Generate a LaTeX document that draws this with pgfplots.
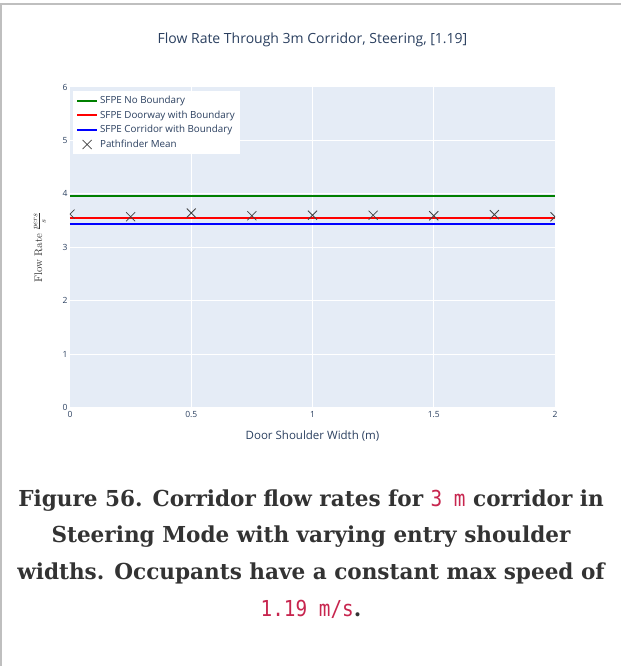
\documentclass[border=0pt]{standalone}
\usepackage[no-math]{fontspec}
\usepackage{pgfplots}
\pgfplotsset{compat=1.18}
\setmainfont{Open Sans}
\newfontfamily\capfont{DejaVu Serif}[FakeStretch=0.98]
\newfontfamily\codefont{DejaVu Sans Mono}[FakeStretch=0.88]
\definecolor{pfont}{HTML}{2A3F5F}
\definecolor{pbg}{HTML}{E5ECF6}
\definecolor{capcol}{HTML}{333333}
\definecolor{codecol}{HTML}{C7254E}
\definecolor{pgreen}{HTML}{008000}
\definecolor{mkcol}{HTML}{444444}
\pgfplotsset{
  linelegend/.style={legend image code/.code={\draw[##1] (3pt,0pt) -- (23pt,0pt);}},
  marklegend/.style={legend image code/.code={\draw[##1] plot coordinates {(13pt,0pt)};}},
}
\begin{document}
\begin{tikzpicture}
\path[use as bounding box] (0pt,0pt) rectangle (621pt,666pt);
\draw[color=black!25, line width=1.5pt] (0pt,662pt) -- (621pt,662pt);
\draw[color=black!25, line width=1.5pt] (1pt,0pt) -- (1pt,662pt);
\begin{axis}[
  at={(70pt,258.5pt)}, anchor=south west,
  scale only axis, width=485pt, height=320.5pt,
  xmin=0, xmax=2, ymin=0, ymax=6,
  axis background/.style={fill=pbg},
  axis line style={draw=none},
  xtick={0,0.5,1,1.5,2}, ytick={0,1,2,3,4,5,6},
  xticklabels={0,0.5,1,1.5,2},
  major tick length=0pt,
  grid=major, major grid style={white, line width=1pt},
  tick label style={font=\fontsize{8.5}{9}\selectfont, text=pfont},
  /pgf/number format/assume math mode=true,
  yticklabel style={xshift=1pt},
  title={Flow Rate Through 3m Corridor, Steering, [1.19]},
  title style={at={(axis description cs:0.5,1)}, anchor=center, yshift=41pt, font=\fontsize{14}{16}\selectfont, text=pfont},
  xlabel={Door Shoulder Width (m)},
  xlabel style={at={(axis description cs:0.5,0)}, anchor=center, yshift=-28.5pt, font=\fontsize{11.5}{13}\selectfont, text=pfont},
  ylabel={$\mathrm{Flow\ Rate}\ \frac{pers}{s}$},
  ylabel style={at={(axis description cs:-0.062,0.5)}, anchor=center, font=\fontsize{11}{12}\selectfont, text=black!80},
  clip marker paths=true,
  legend style={at={(axis description cs:0.006,0.988)}, anchor=north west, fill=white, draw=none, font=\fontsize{9.8}{11}\selectfont, text=pfont, inner sep=3pt, row sep=1.7pt},
  legend cell align=left,
]
\addplot[pgreen, line width=2pt, linelegend] coordinates {(0,3.95) (2,3.95)};
\addlegendentry{SFPE No Boundary}
\addplot[red, line width=2pt, linelegend] coordinates {(0,3.55) (2,3.55)};
\addlegendentry{SFPE Doorway with Boundary}
\addplot[blue, line width=2pt, linelegend] coordinates {(0,3.43) (2,3.43)};
\addlegendentry{SFPE Corridor with Boundary}
\addplot[only marks, mark=x, mark size=6.4pt, mkcol, line width=0.8pt, marklegend] coordinates {
(0,3.62) (0.25,3.57) (0.5,3.64) (0.75,3.59) (1,3.60) (1.25,3.60) (1.5,3.59) (1.75,3.61) (2,3.57)};
\addlegendentry{Pathfinder Mean}
\end{axis}
\begin{scope}[font=\capfont\bfseries\fontsize{22}{26}\selectfont, text=capcol]
\node[anchor=base] at (311pt,159pt) {Figure 56. Corridor flow rates for {\codefont\mdseries\color{codecol}3 m} corridor in};
\node[anchor=base] at (311pt,123pt) {Steering Mode with varying entry shoulder};
\node[anchor=base] at (311pt,86pt) {widths. Occupants have a constant max speed of};
\node[anchor=base] at (311pt,49pt) {{\codefont\mdseries\color{codecol}1.19 m/s}.};
\end{scope}
\end{tikzpicture}
\end{document}
